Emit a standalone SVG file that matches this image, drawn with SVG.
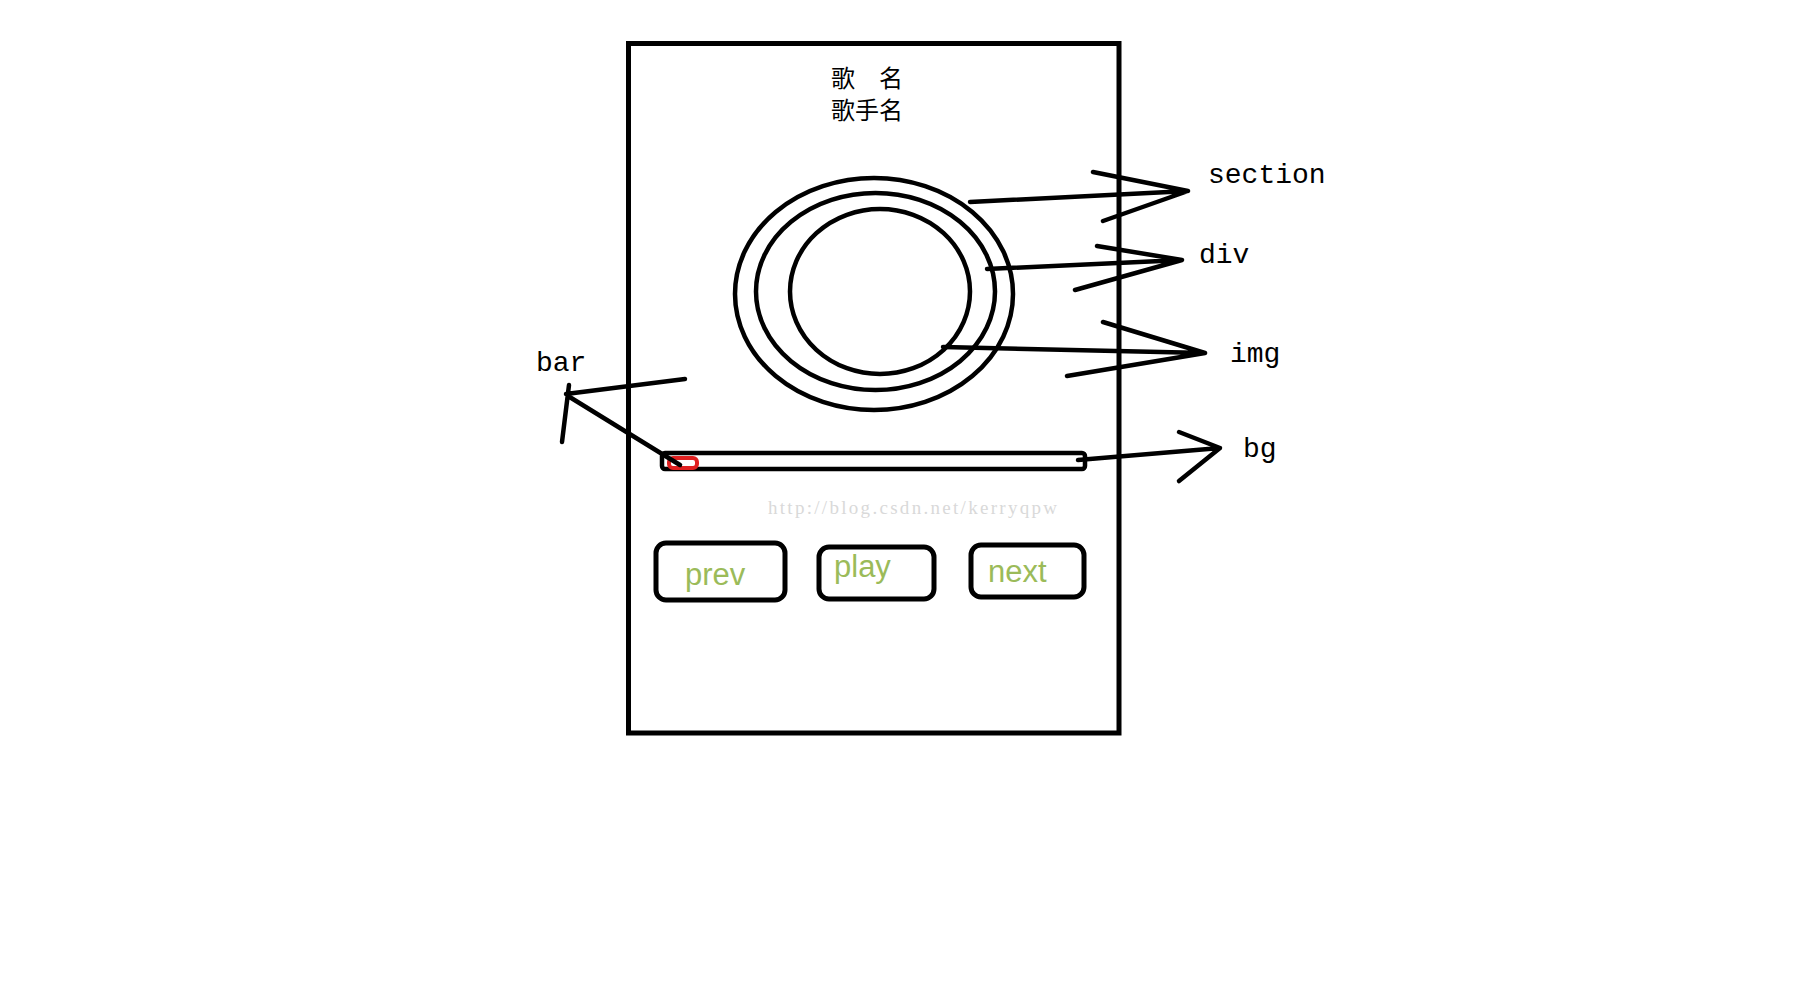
<svg xmlns="http://www.w3.org/2000/svg" width="1806" height="994" viewBox="0 0 1806 994">
<style>
.ln{fill:none;stroke:#000;stroke-width:4.5;stroke-linecap:round;stroke-linejoin:round}
.lbl{font-family:"Liberation Mono","Courier New",monospace;font-size:28px;fill:#000}
.btn{fill:none;stroke:#000;stroke-width:5}
.bt{font-family:"Liberation Sans",Arial,sans-serif;font-size:31px;fill:#9bbb59}
.cjk{font-family:"Liberation Serif","Noto Sans CJK SC",serif;font-size:24px;fill:#000}
</style>
<rect width="1806" height="994" fill="#fff"/>
<g id="frame">
<rect x="628.5" y="43.5" width="490.5" height="689.5" fill="none" stroke="#000" stroke-width="5"/>
</g>
<g id="title">
<text class="cjk" x="831" y="87">歌　名</text>
<text class="cjk" x="831" y="119">歌手名</text>
</g>
<g id="section">
<ellipse cx="874" cy="294" rx="139" ry="116" class="ln"/>
</g>
<g id="div">
<ellipse cx="875.5" cy="291.5" rx="119.5" ry="98.5" class="ln"/>
</g>
<g id="img">
<ellipse cx="880" cy="291.5" rx="90" ry="82.5" class="ln"/>
</g>
<g id="bg">
<rect x="662" y="453" width="423" height="16" rx="3" class="ln"/>
</g>
<g id="bar">
<rect x="669" y="458" width="28" height="10" rx="4" fill="none" stroke="#e02020" stroke-width="4"/>
</g>
<g id="watermark">
<text x="768" y="514" font-family="Liberation Serif, serif" font-size="19" fill="#d9d9d9" textLength="289" lengthAdjust="spacing">http://blog.csdn.net/kerryqpw</text>
</g>
<g id="btn-prev">
<rect x="656" y="543" width="129" height="57" rx="10" class="btn"/>
<text class="bt" x="685" y="585">prev</text>
</g>
<g id="btn-play">
<rect x="819" y="547" width="115" height="52" rx="10" class="btn"/>
<text class="bt" x="834" y="577">play</text>
</g>
<g id="btn-next">
<rect x="971" y="545" width="113" height="52" rx="10" class="btn"/>
<text class="bt" x="988" y="582">next</text>
</g>
<g id="connectors">
<path class="ln" d="M970,202 L1188,191 M1093,172 L1188,191 L1103,221"/>
<path class="ln" d="M987,269 L1182,260 M1097,246 L1182,260 L1075,290"/>
<path class="ln" d="M943,347 L1205,353 M1103,322 L1205,353 L1067,376"/>
<path class="ln" d="M680,465 L568,396 M685,379 L566,394 M569,385 L562,442"/>
<path class="ln" d="M1078,460 L1220,448 M1179,432 L1220,448 L1179,481"/>
</g>
<g id="labels">
<text class="lbl" x="1208" y="183">section</text>
<text class="lbl" x="1199" y="263">div</text>
<text class="lbl" x="1230" y="362">img</text>
<text class="lbl" x="536" y="371">bar</text>
<text class="lbl" x="1243" y="457">bg</text>
</g>
</svg>
